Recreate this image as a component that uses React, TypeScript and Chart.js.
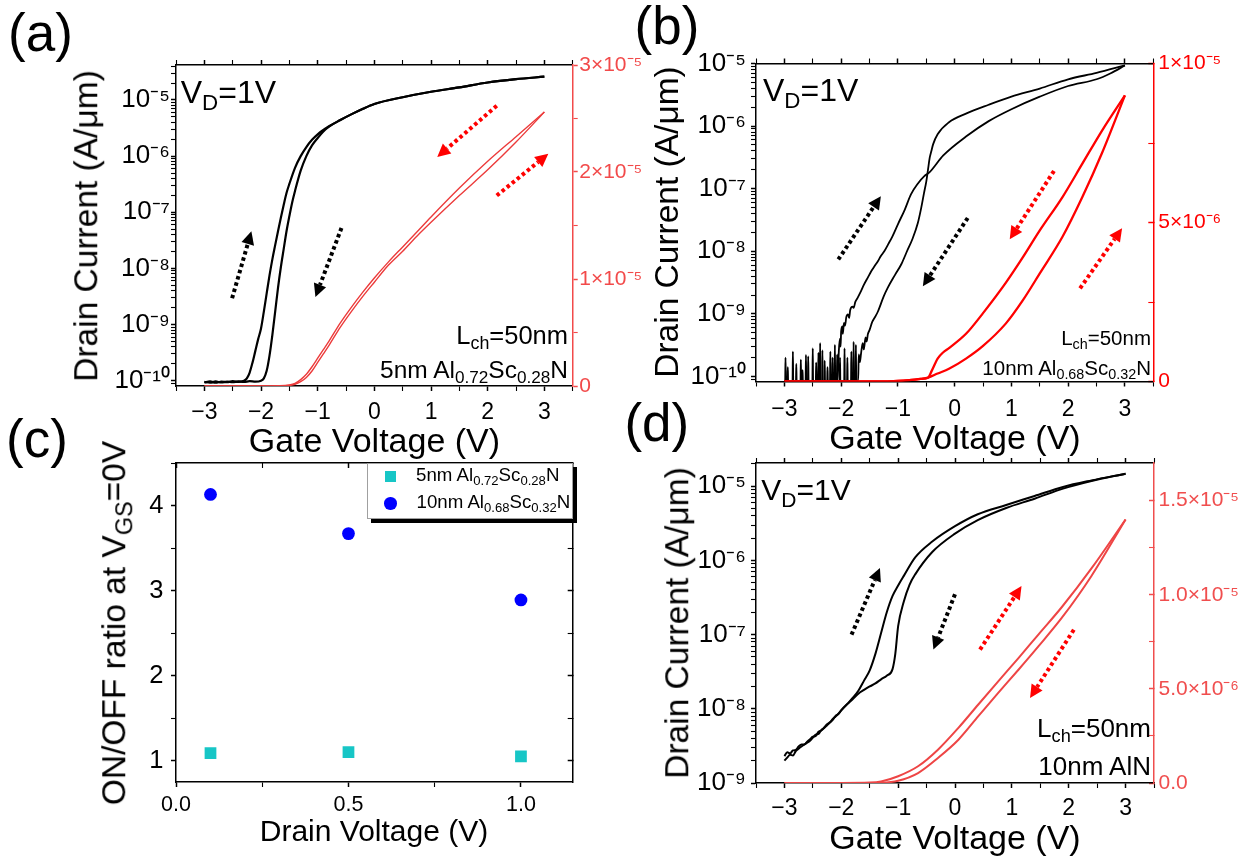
import React, { useEffect, useRef } from 'react';
import { Chart, registerables } from 'chart.js';

Chart.register(...registerables);

const FONT = '"Liberation Sans", Arial, Helvetica, sans-serif';
const SUP: Record<string, string> = { '-': '⁻', '0': '⁰', '1': '¹', '2': '²', '3': '³', '4': '⁴', '5': '⁵', '6': '⁶', '7': '⁷', '8': '⁸', '9': '⁹' };

// ---------------- Gate-voltage axis (panels a, b, d) ----------------
const gateTickValues = [-3.5, -3, -2.5, -2, -1.5, -1, -0.5, 0, 0.5, 1, 1.5, 2, 2.5, 3, 3.5];
const gateLabelValues = [-3, -2, -1, 0, 1, 2, 3];

// ---------------- Panel (a): 5nm Al0.72Sc0.28N ----------------
const aFwdV = [-3.0, -2.9, -2.8, -2.7, -2.6, -2.5, -2.4, -2.3, -2.25, -2.2,
  -2.15, -2.1, -2.05, -2.0, -1.95, -1.9, -1.85, -1.8, -1.75, -1.7,
  -1.65, -1.6, -1.55, -1.5, -1.4, -1.3, -1.2, -1.1, -1.0, -0.8,
  -0.6, -0.4, -0.2, 0, 0.5, 1.0, 1.5, 2.0, 2.5, 3.0];
const aFwdI = [0.93e-10, 0.97e-10, 0.92e-10, 0.96e-10, 0.94e-10, 0.98e-10, 0.95e-10, 1.0e-10, 1.1e-10, 1.4e-10,
  2.1e-10, 3.4e-10, 5.5e-10, 8.5e-10, 1.7e-9, 3.6e-9, 7.5e-9, 1.45e-8, 2.6e-8, 4.6e-8,
  8.0e-8, 1.35e-7, 2.2e-7, 3.2e-7, 6.2e-7, 1.0e-6, 1.45e-6, 1.95e-6, 2.45e-6, 3.4e-6,
  4.4e-6, 5.6e-6, 7.0e-6, 8.5e-6, 1.12e-5, 1.4e-5, 1.68e-5, 2.05e-5, 2.35e-5, 2.6e-5];
const aRevV = [-3.0, -2.9, -2.8, -2.7, -2.6, -2.5, -2.4, -2.3, -2.2, -2.1,
  -2.0, -1.95, -1.9, -1.85, -1.8, -1.75, -1.7, -1.65, -1.6, -1.55,
  -1.5, -1.45, -1.4, -1.3, -1.2, -1.1, -1.0, -0.9, -0.8, -0.6,
  -0.4, -0.2, 0, 0.5, 1.0, 1.5, 2.0, 2.5, 3.0];
const aRevI = [0.95e-10, 0.92e-10, 0.97e-10, 0.93e-10, 0.96e-10, 0.94e-10, 0.97e-10, 0.95e-10, 0.98e-10, 0.96e-10,
  1.0e-10, 1.1e-10, 1.5e-10, 2.8e-10, 6.5e-10, 1.7e-9, 4.5e-9, 1.05e-8, 2.2e-8, 4.6e-8,
  8.5e-8, 1.5e-7, 2.4e-7, 5.5e-7, 1.0e-6, 1.55e-6, 2.1e-6, 2.75e-6, 3.35e-6, 4.4e-6,
  5.6e-6, 7.0e-6, 8.5e-6, 1.12e-5, 1.4e-5, 1.68e-5, 2.05e-5, 2.35e-5, 2.6e-5];
const aLinV = [-3.0, -2.0, -1.7, -1.5, -1.4, -1.3, -1.2, -1.1, -1.0, -0.9,
  -0.8, -0.6, -0.4, -0.2, 0, 0.25, 0.5, 0.75, 1.0, 1.5,
  2.0, 2.5, 3.0];
const aLinRevI = [0, 0, 0.02e-6, 0.1e-6, 0.25e-6, 0.6e-6, 1.1e-6, 1.8e-6, 2.6e-6, 3.4e-6,
  4.2e-6, 5.9e-6, 7.4e-6, 8.8e-6, 10.1e-6, 11.6e-6, 13.0e-6, 14.4e-6, 15.8e-6, 18.5e-6,
  21.0e-6, 23.3e-6, 25.6e-6];
const aLinFwdI = [0, 0, 0.01e-6, 0.05e-6, 0.15e-6, 0.4e-6, 0.8e-6, 1.4e-6, 2.2e-6, 3.0e-6,
  3.8e-6, 5.5e-6, 7.0e-6, 8.4e-6, 9.7e-6, 11.3e-6, 12.6e-6, 14.0e-6, 15.3e-6, 17.8e-6,
  20.2e-6, 22.8e-6, 25.6e-6];
const aRightTicks = [0, 5e-6, 1e-5, 1.5e-5, 2e-5, 2.5e-5, 3e-5];
const aRightLabelValues = [0, 1e-5, 2e-5, 3e-5];
const aRightLabels = ['0', '1×10⁻⁵', '2×10⁻⁵', '3×10⁻⁵'];
const aArrows = [
  { from: [-2.51, 2.95e-9], to: [-2.17, 4.57e-8], axis: 'y', color: '#000' },
  { from: [-0.58, 5.25e-8], to: [-1.04, 3.09e-9], axis: 'y', color: '#000' },
  { from: [2.16, 26.2e-6], to: [1.11, 21.4e-6], axis: 'y2', color: '#ff0000' },
  { from: [2.16, 17.8e-6], to: [3.07, 21.7e-6], axis: 'y2', color: '#ff0000' },
];

// ---------------- Panel (b): 10nm Al0.68Sc0.32N ----------------
const F_B = 8.5e-11; // noise floor level
const bFwdV = [-3.0,
  -2.986, -2.98, -2.974, -2.946, -2.94, -2.934, -2.856, -2.85, -2.844,
  -2.796, -2.79, -2.784, -2.716, -2.71, -2.704, -2.686, -2.68, -2.674,
  -2.586, -2.58, -2.574, -2.506, -2.5, -2.494, -2.446, -2.44, -2.434,
  -2.406, -2.4, -2.394, -2.376, -2.37, -2.364, -2.296, -2.29, -2.284,
  -2.246, -2.24, -2.234, -2.196, -2.19, -2.184, -2.156, -2.15, -2.144,
  -2.116, -2.11, -2.104, -2.076, -2.07, -2.064,
  -2.05, -2.04, -2.02, -2.01, -2.0, -1.98, -1.97, -1.95, -1.93, -1.91,
  -1.88, -1.86, -1.84, -1.8, -1.78, -1.75, -1.71, -1.65, -1.6, -1.53,
  -1.47, -1.41, -1.35, -1.3, -1.24, -1.17, -1.1, -1.0, -0.88, -0.77,
  -0.65, -0.53, -0.45, -0.2, 0.2, 0.6, 1.0, 1.5, 2.0, 2.5,
  2.75, 3.0];
const bFwdI = [F_B,
  F_B, 2.0e-10, F_B, F_B, 1.41e-10, F_B, F_B, 2.5e-10, F_B,
  F_B, 1.58e-10, F_B, F_B, 1.86e-10, F_B, F_B, 1.26e-10, F_B,
  F_B, 2.09e-10, F_B, F_B, 2.8e-10, F_B, F_B, 1.66e-10, F_B,
  F_B, 2.4e-10, F_B, F_B, 3.4e-10, F_B, F_B, 1.78e-10, F_B,
  F_B, 1.41e-10, F_B, F_B, 2.5e-10, F_B, F_B, 2.0e-10, F_B,
  F_B, 3.2e-10, F_B, F_B, 2.24e-10, F_B,
  1.5e-10, 2.6e-10, 4.0e-10, 3.0e-10, 5.2e-10, 6.3e-10, 4.8e-10, 7.2e-10, 6.5e-10, 8.8e-10,
  9.8e-10, 8.6e-10, 1.15e-9, 1.3e-9, 1.25e-9, 1.55e-9, 1.8e-9, 2.3e-9, 2.9e-9, 3.8e-9,
  4.8e-9, 5.8e-9, 7.0e-9, 8.4e-9, 1.0e-8, 1.3e-8, 1.7e-8, 2.7e-8, 4.6e-8, 8.1e-8,
  1.2e-7, 1.6e-7, 1.8e-7, 3.4e-7, 6.8e-7, 1.2e-6, 1.86e-6, 2.95e-6, 4.37e-6, 5.6e-6,
  7.0e-6, 9.3e-6];
const bRevV = [-3.0,
  -2.626, -2.62, -2.614, -2.336, -2.33, -2.324, -2.026, -2.02, -2.014,
  -1.946, -1.94, -1.934, -1.896, -1.89, -1.884, -1.826, -1.82, -1.814,
  -1.786, -1.78, -1.774, -1.746, -1.74, -1.734, -1.70,
  -1.69, -1.67, -1.65, -1.62, -1.6, -1.57, -1.55, -1.53, -1.5, -1.45,
  -1.4, -1.35, -1.25, -1.18, -1.05, -0.94, -0.84, -0.74, -0.65, -0.59,
  -0.54, -0.5, -0.47, -0.44, -0.41, -0.38, -0.3, -0.1, 0.2, 0.6,
  1.0, 1.5, 2.0, 2.5, 3.0];
const bRevI = [F_B,
  F_B, 2.2e-10, F_B, F_B, 2.6e-10, F_B, F_B, 2.0e-10, F_B,
  F_B, 2.8e-10, F_B, F_B, 2.0e-10, F_B, F_B, 2.5e-10, F_B,
  F_B, 3.55e-10, F_B, F_B, 3.2e-10, F_B, F_B,
  2.24e-10, 1.7e-10, 2.3e-10, 3.4e-10, 2.7e-10, 4.2e-10, 3.6e-10, 4.7e-10, 5.5e-10, 7.5e-10,
  9.0e-10, 1.1e-9, 1.9e-9, 2.6e-9, 4.2e-9, 6.2e-9, 1.0e-8, 1.6e-8, 2.8e-8, 4.9e-8,
  8.5e-8, 1.3e-7, 2.0e-7, 3.1e-7, 4.0e-7, 5.1e-7, 7.4e-7, 1.15e-6, 1.58e-6, 2.19e-6,
  2.95e-6, 3.98e-6, 5.6e-6, 7.08e-6, 9.3e-6];
const bLinRevV = [-3.0, -2.0, -1.5, -1.2, -1.0, -0.8, -0.6, -0.47, -0.4, -0.3,
  -0.2, -0.1, 0.2, 0.5, 0.9, 1.2, 1.5, 1.9, 2.25, 2.6, 3.0];
const bLinRevI = [0, 0, 0, 0.005e-6, 0.015e-6, 0.04e-6, 0.08e-6, 0.12e-6, 0.35e-6, 0.72e-6,
  0.92e-6, 1.05e-6, 1.5e-6, 2.15e-6, 3.1e-6, 3.9e-6, 4.75e-6, 5.8e-6, 6.85e-6, 7.9e-6, 9.0e-6];
const bLinFwdV = [-3.0, -2.0, -1.5, -1.2, -1.0, -0.8, -0.6, -0.47, -0.3, -0.1,
  0.2, 0.5, 0.9, 1.2, 1.5, 1.9, 2.25, 2.6, 3.0];
const bLinFwdI = [0, 0, 0, 0.005e-6, 0.015e-6, 0.04e-6, 0.08e-6, 0.12e-6, 0.25e-6, 0.4e-6,
  0.72e-6, 1.12e-6, 1.82e-6, 2.55e-6, 3.4e-6, 4.55e-6, 5.8e-6, 7.2e-6, 9.0e-6];
const bRightTicks = [0, 2.5e-6, 5e-6, 7.5e-6, 1e-5];
const bRightLabelValues = [0, 5e-6, 1e-5];
const bRightLabels = ['0', '5×10⁻⁶', '1×10⁻⁵'];
const bArrows = [
  { from: [-2.05, 7.4e-9], to: [-1.30, 7.6e-8], axis: 'y', color: '#000' },
  { from: [0.23, 3.4e-8], to: [-0.56, 2.75e-9], axis: 'y', color: '#000' },
  { from: [1.75, 6.62e-6], to: [0.97, 4.47e-6], axis: 'y2', color: '#ff0000' },
  { from: [2.21, 2.93e-6], to: [2.95, 4.82e-6], axis: 'y2', color: '#ff0000' },
];

// ---------------- Panel (c): ON/OFF ratio ----------------
const drainV = [0.1, 0.5, 1.0];
const ratio5nm = [1.09, 1.10, 1.05];
const ratio10nm = [4.13, 3.67, 2.89];
const cXTicks = [0, 0.25, 0.5, 0.75, 1.0];
const cXLabelValues = [0, 0.5, 1.0];
const cXLabels = ['0.0', '0.5', '1.0'];
const cYTicks = [1, 1.5, 2, 2.5, 3, 3.5, 4, 4.5];
const cYLabelValues = [1, 2, 3, 4];

// ---------------- Panel (d): 10nm AlN ----------------
const dFwdV = [-3.0, -2.95, -2.9, -2.85, -2.8, -2.75, -2.7, -2.65, -2.6, -2.55,
  -2.5, -2.45, -2.4, -2.35, -2.3, -2.25, -2.2, -2.15, -2.1, -2.05,
  -2.0, -1.9, -1.8, -1.7, -1.6, -1.5, -1.4, -1.3, -1.2, -1.1,
  -1.0, -0.9, -0.7, -0.4, 0, 0.4, 0.9, 1.4, 1.9, 2.4,
  3.0];
const dFwdI = [2.3e-9, 2.6e-9, 2.5e-9, 2.75e-9, 2.8e-9, 3.1e-9, 3.3e-9, 3.3e-9, 3.6e-9, 3.9e-9,
  4.2e-9, 4.3e-9, 4.9e-9, 5.1e-9, 5.6e-9, 6.2e-9, 6.6e-9, 7.1e-9, 8.0e-9, 8.5e-9,
  9.5e-9, 1.15e-8, 1.4e-8, 1.75e-8, 2.4e-8, 3.3e-8, 5.5e-8, 1.05e-7, 2.0e-7, 3.3e-7,
  4.6e-7, 6.2e-7, 1.1e-6, 1.8e-6, 2.9e-6, 4.2e-6, 5.6e-6, 7.4e-6, 9.8e-6, 1.2e-5,
  1.48e-5];
const dRevV = [-3.0, -2.95, -2.9, -2.85, -2.8, -2.75, -2.7, -2.65, -2.6, -2.55,
  -2.5, -2.45, -2.4, -2.35, -2.3, -2.25, -2.2, -2.15, -2.1, -2.05,
  -2.0, -1.9, -1.8, -1.7, -1.6, -1.5, -1.4, -1.3, -1.2, -1.1,
  -1.05, -1.0, -0.9, -0.8, -0.7, -0.4, 0, 0.4, 0.9, 1.4,
  1.9, 2.4, 3.0];
const dRevI = [2.0e-9, 2.2e-9, 2.4e-9, 2.35e-9, 2.7e-9, 2.9e-9, 3.1e-9, 3.3e-9, 3.5e-9, 3.7e-9,
  4.1e-9, 4.5e-9, 4.6e-9, 5.2e-9, 5.5e-9, 6.0e-9, 6.5e-9, 7.3e-9, 7.9e-9, 8.6e-9,
  9.6e-9, 1.15e-8, 1.35e-8, 1.6e-8, 1.8e-8, 2.0e-8, 2.2e-8, 2.5e-8, 2.8e-8, 3.4e-8,
  5.5e-8, 1.3e-7, 2.8e-7, 4.7e-7, 6.5e-7, 1.3e-6, 2.3e-6, 3.5e-6, 5.1e-6, 6.8e-6,
  9.3e-6, 1.18e-5, 1.48e-5];
const dLinV = [-3.0, -2.0, -1.5, -1.3, -1.0, -0.65, -0.3, 0.06, 0.41, 0.76,
  1.12, 1.47, 1.88, 2.4, 3.0];
const dLinUpI = [0, 0, 0.02e-6, 0.08e-6, 0.36e-6, 0.89e-6, 1.77e-6, 2.93e-6, 4.17e-6, 5.4e-6,
  6.65e-6, 7.9e-6, 9.35e-6, 11.4e-6, 14.0e-6];
const dLinLoI = [0, 0, 0, 0.01e-6, 0.12e-6, 0.53e-6, 1.33e-6, 2.3e-6, 3.55e-6, 4.79e-6,
  6.03e-6, 7.27e-6, 8.78e-6, 11.0e-6, 14.0e-6];
const dRightTicks = [0, 2.5e-6, 5e-6, 7.5e-6, 1e-5, 1.25e-5, 1.5e-5];
const dRightLabelValues = [0, 5e-6, 1e-5, 1.5e-5];
const dRightLabels = ['0.0', '5.0×10⁻⁶', '1.0×10⁻⁵', '1.5×10⁻⁵'];
const dArrows = [
  { from: [-1.82, 1.0e-7], to: [-1.32, 7.9e-7], axis: 'y', color: '#000' },
  { from: [0.0, 3.5e-7], to: [-0.38, 6.3e-8], axis: 'y', color: '#000' },
  { from: [0.44, 7.09e-6], to: [1.17, 10.46e-6], axis: 'y2', color: '#ff0000' },
  { from: [2.09, 8.14e-6], to: [1.32, 4.52e-6], axis: 'y2', color: '#ff0000' },
];

// ---------------- helpers ----------------
const pts = (xs: number[], ys: number[]) => xs.map((x, i) => ({ x, y: ys[i] }));
const near = (a: number, b: number) => Math.abs(a - b) <= 1e-9 * Math.max(1, Math.abs(a), Math.abs(b));
const pickLabel = (v: number, vals: number[], labels: string[]) => {
  const i = vals.findIndex((w) => Math.abs(w - v) <= Math.abs(w) * 1e-6 + 1e-13);
  return i >= 0 ? labels[i] : '';
};
const gateLabel = (v: number) => {
  const i = gateLabelValues.findIndex((w) => near(w, v));
  if (i < 0) return '';
  const n = gateLabelValues[i];
  return n < 0 ? '\u2212' + Math.abs(n) : String(n);
};
const logLabel = (v: number) => {
  const e = Math.log10(v);
  const r = Math.round(e);
  if (Math.abs(e - r) > 1e-6) return '';
  return '10' + String(r).split('').map((c) => SUP[c]).join('');
};
const logTicks = (min: number, max: number) => {
  const out: any[] = [];
  for (let e = Math.floor(Math.log10(min)); e <= Math.ceil(Math.log10(max)); e++) {
    for (let m = 1; m <= 9; m++) {
      const v = m * Math.pow(10, e);
      if (v >= min && v <= max) out.push({ value: v, major: m === 1 });
    }
  }
  return out;
};

function makeArrowPlugin(arrows: any[]) {
  return {
    id: 'dottedArrows',
    afterDatasetsDraw(chart: any) {
      const ctx = chart.ctx;
      const xs = chart.scales.x;
      for (const a of arrows) {
        const ys = chart.scales[a.axis];
        const x1 = xs.getPixelForValue(a.from[0]);
        const y1 = ys.getPixelForValue(a.from[1]);
        const x2 = xs.getPixelForValue(a.to[0]);
        const y2 = ys.getPixelForValue(a.to[1]);
        const ang = Math.atan2(y2 - y1, x2 - x1);
        const hl = 13;
        const hw = 6.5;
        const bx = x2 - hl * Math.cos(ang);
        const by = y2 - hl * Math.sin(ang);
        ctx.save();
        ctx.strokeStyle = a.color;
        ctx.fillStyle = a.color;
        ctx.lineWidth = 4;
        ctx.lineCap = 'butt';
        ctx.setLineDash([3.5, 3]);
        ctx.beginPath();
        ctx.moveTo(x1, y1);
        ctx.lineTo(bx, by);
        ctx.stroke();
        ctx.setLineDash([]);
        ctx.beginPath();
        ctx.moveTo(x2, y2);
        ctx.lineTo(bx + hw * Math.sin(ang), by - hw * Math.cos(ang));
        ctx.lineTo(bx - hw * Math.sin(ang), by + hw * Math.cos(ang));
        ctx.closePath();
        ctx.fill();
        ctx.restore();
      }
    },
  };
}

// tickLength > 0: ticks point outward; < 0: ticks point into the plot
const gridOpts = (color: string, tickLength = 5) => ({
  display: true,
  drawOnChartArea: false,
  drawTicks: true,
  tickLength,
  tickColor: color,
  color,
  tickWidth: (c: any) => (c.tick && c.tick.major ? 1.5 : 1.1),
});
const borderOpts = (color: string) => ({ display: true, color, width: 1.5 });

function ivChart(canvas: HTMLCanvasElement, s: any) {
  const { box, area } = s;
  const Lw = area.l - box.left;
  const Rw = box.left + box.w - area.r;
  const Th = area.t - box.top;
  const Bh = box.top + box.h - area.b;
  const lineDs = (xs: number[], ys: number[], color: string, width: number, axis: string) => ({
    data: pts(xs, ys),
    borderColor: color,
    backgroundColor: color,
    borderWidth: width,
    pointRadius: 0,
    fill: false,
    xAxisID: 'x',
    yAxisID: axis,
    cubicInterpolationMode: 'monotone',
  });
  return new Chart(canvas, {
    type: 'line',
    data: {
      datasets: [
        lineDs(s.redA.x, s.redA.y, s.redColor, s.redWidth, 'y2'),
        lineDs(s.redB.x, s.redB.y, s.redColor, s.redWidth, 'y2'),
        lineDs(s.blkA.x, s.blkA.y, '#000', s.blkWidth, 'y'),
        lineDs(s.blkB.x, s.blkB.y, '#000', s.blkWidth, 'y'),
      ],
    },
    options: {
      responsive: false,
      animation: false,
      devicePixelRatio: 1,
      events: [],
      layout: { padding: 0 },
      plugins: { legend: { display: false }, tooltip: { enabled: false } },
      scales: {
        x: {
          type: 'linear', position: 'bottom', min: -3.5, max: 3.5,
          afterBuildTicks: (sc: any) => { sc.ticks = gateTickValues.map((v) => ({ value: v, major: gateLabelValues.includes(v) })); },
          afterFit: (sc: any) => { sc.height = Bh; },
          ticks: { autoSkip: false, maxRotation: 0, minRotation: 0, padding: s.xPad, color: '#000', font: { family: FONT, size: 23 }, callback: (v: number) => gateLabel(v) },
          grid: gridOpts('#000'),
          border: borderOpts('#000'),
        },
        xTop: {
          type: 'linear', position: 'top', min: -3.5, max: 3.5,
          afterBuildTicks: (sc: any) => { sc.ticks = gateTickValues.map((v) => ({ value: v, major: gateLabelValues.includes(v) })); },
          afterFit: (sc: any) => { sc.height = Th; },
          ticks: { autoSkip: false, maxRotation: 0, minRotation: 0, font: { family: FONT, size: 10 }, callback: () => '' },
          grid: gridOpts('#000'),
          border: borderOpts('#000'),
        },
        y: {
          type: 'logarithmic', position: 'left', min: s.logMin, max: s.logMax,
          afterBuildTicks: (sc: any) => { sc.ticks = logTicks(s.logMin, s.logMax); },
          afterFit: (sc: any) => { sc.width = Lw; },
          ticks: { autoSkip: false, padding: s.yPad, color: '#000', font: { family: FONT, size: 26 }, callback: (v: number) => logLabel(v) },
          grid: gridOpts('#000'),
          border: borderOpts('#000'),
        },
        y2: {
          type: 'linear', position: 'right', min: 0, max: s.linMax,
          afterBuildTicks: (sc: any) => { sc.ticks = s.rightTicks.map((v: number) => ({ value: v, major: s.rightLabelValues.includes(v) })); },
          afterFit: (sc: any) => { sc.width = Rw; },
          ticks: { autoSkip: false, padding: s.rPad, color: s.axisRed, font: { family: FONT, size: 21 }, callback: (v: number) => pickLabel(v, s.rightLabelValues, s.rightLabels) },
          grid: gridOpts(s.axisRed, s.rTick),
          border: borderOpts(s.axisRed),
        },
      },
    },
    plugins: [makeArrowPlugin(s.arrows)],
  } as any);
}

function ratioChart(canvas: HTMLCanvasElement, s: any) {
  const { box, area } = s;
  const Lw = area.l - box.left;
  const Rw = box.left + box.w - area.r;
  const Th = area.t - box.top;
  const Bh = box.top + box.h - area.b;
  const xT = () => cXTicks.map((v) => ({ value: v, major: cXLabelValues.includes(v) }));
  const yT = () => cYTicks.map((v) => ({ value: v, major: cYLabelValues.includes(v) }));
  return new Chart(canvas, {
    type: 'scatter',
    data: {
      datasets: [
        { data: pts(drainV, ratio5nm), pointStyle: 'rect', pointRadius: 8.3, backgroundColor: '#17c6c6', borderWidth: 0, xAxisID: 'x', yAxisID: 'y' },
        { data: pts(drainV, ratio10nm), pointStyle: 'circle', pointRadius: 6.4, backgroundColor: '#0000ff', borderWidth: 0, xAxisID: 'x', yAxisID: 'y' },
      ],
    },
    options: {
      responsive: false,
      animation: false,
      devicePixelRatio: 1,
      events: [],
      layout: { padding: 0 },
      plugins: { legend: { display: false }, tooltip: { enabled: false } },
      scales: {
        x: {
          type: 'linear', position: 'bottom', min: 0, max: 1.15,
          afterBuildTicks: (sc: any) => { sc.ticks = xT(); },
          afterFit: (sc: any) => { sc.height = Bh; },
          ticks: { autoSkip: false, maxRotation: 0, minRotation: 0, padding: 5.5, color: '#000', font: { family: FONT, size: 21.5 }, callback: (v: number) => pickLabel(v, cXLabelValues, cXLabels) },
          grid: gridOpts('#000'),
          border: borderOpts('#000'),
        },
        xTop: {
          type: 'linear', position: 'top', min: 0, max: 1.15,
          afterBuildTicks: (sc: any) => { sc.ticks = xT(); },
          afterFit: (sc: any) => { sc.height = Th; },
          ticks: { autoSkip: false, maxRotation: 0, font: { family: FONT, size: 10 }, callback: () => '' },
          grid: gridOpts('#000', -5),
          border: borderOpts('#000'),
        },
        y: {
          type: 'linear', position: 'left', min: 0.75, max: 4.5,
          afterBuildTicks: (sc: any) => { sc.ticks = yT(); },
          afterFit: (sc: any) => { sc.width = Lw; },
          ticks: { autoSkip: false, padding: 7.5, color: '#000', font: { family: FONT, size: 25.5 }, callback: (v: number) => (cYLabelValues.some((w) => near(w, v)) ? String(Math.round(v)) : '') },
          grid: gridOpts('#000'),
          border: borderOpts('#000'),
        },
        yRight: {
          type: 'linear', position: 'right', min: 0.75, max: 4.5,
          afterBuildTicks: (sc: any) => { sc.ticks = yT(); },
          afterFit: (sc: any) => { sc.width = Rw; },
          ticks: { autoSkip: false, font: { family: FONT, size: 10 }, callback: () => '' },
          grid: gridOpts('#000', -5),
          border: borderOpts('#000'),
        },
      },
    },
  } as any);
}

// ---------------- layout (page pixels) ----------------
const PANEL_A = {
  box: { left: 0, top: 0, w: 660, h: 450 }, area: { l: 176, r: 572.7, t: 65, b: 386 },
  logMin: 8.05e-11, logMax: 4.2e-5, linMax: 3e-5,
  rightTicks: aRightTicks, rightLabelValues: aRightLabelValues, rightLabels: aRightLabels,
  redA: { x: aLinV, y: aLinRevI }, redB: { x: aLinV, y: aLinFwdI },
  blkA: { x: aFwdV, y: aFwdI }, blkB: { x: aRevV, y: aRevI },
  redColor: '#ec3b3b', redWidth: 1.4, blkWidth: 2.2, axisRed: '#f24a4a', arrows: aArrows,
  xPad: 8.2, yPad: 1, rPad: 1.5, rTick: 5,
};
const PANEL_B = {
  box: { left: 600, top: 0, w: 655, h: 450 }, area: { l: 756, r: 1153.3, t: 63.5, b: 381.5 },
  logMin: 8.3e-11, logMax: 1e-5, linMax: 1e-5,
  rightTicks: bRightTicks, rightLabelValues: bRightLabelValues, rightLabels: bRightLabels,
  redA: { x: bLinRevV, y: bLinRevI }, redB: { x: bLinFwdV, y: bLinFwdI },
  blkA: { x: bFwdV, y: bFwdI }, blkB: { x: bRevV, y: bRevI },
  redColor: '#ff0000', redWidth: 2.3, blkWidth: 1.8, axisRed: '#ff0000', arrows: bArrows,
  xPad: 9, yPad: 5, rPad: 10, rTick: -5,
};
const PANEL_C = { box: { left: 0, top: 430, w: 620, h: 432 }, area: { l: 176, r: 572.7, t: 463, b: 782 } };
const PANEL_D = {
  box: { left: 600, top: 430, w: 655, h: 432 }, area: { l: 756, r: 1154, t: 463, b: 783 },
  logMin: 1e-9, logMax: 2.06e-5, linMax: 1.7e-5,
  rightTicks: dRightTicks, rightLabelValues: dRightLabelValues, rightLabels: dRightLabels,
  redA: { x: dLinV, y: dLinUpI }, redB: { x: dLinV, y: dLinLoI },
  blkA: { x: dFwdV, y: dFwdI }, blkB: { x: dRevV, y: dRevI },
  redColor: '#ee4545', redWidth: 2, blkWidth: 2, axisRed: '#f04e4e', arrows: dArrows,
  xPad: 6.5, yPad: 5, rPad: 9.5, rTick: -5,
};

function ChartCanvas({ spec, kind }: { spec: any; kind: 'iv' | 'ratio' }) {
  const ref = useRef<HTMLCanvasElement | null>(null);
  useEffect(() => {
    if (!ref.current) return;
    const chart = kind === 'iv' ? ivChart(ref.current, spec) : ratioChart(ref.current, spec);
    return () => chart.destroy();
  }, [spec, kind]);
  const b = spec.box;
  return (
    <canvas
      ref={ref}
      width={b.w}
      height={b.h}
      style={{ position: 'absolute', left: b.left, top: b.top, width: b.w, height: b.h }}
    />
  );
}

// text helpers (baseline-positioned)
function Txt({ x, y, size, align = 'left', color = '#000', children }: any) {
  const st: React.CSSProperties = {
    position: 'absolute', top: y - 0.8465 * size, fontSize: size, lineHeight: 1,
    fontFamily: FONT, color, whiteSpace: 'nowrap',
  };
  if (align === 'left') st.left = x;
  else if (align === 'right') st.right = 1255 - x;
  else { st.left = x; st.transform = 'translateX(-50%)'; }
  return <div style={st}>{children}</div>;
}
function Sub({ children, shift = 0.3 }: any) {
  return <span style={{ fontSize: '0.7em', verticalAlign: `-${shift}em`, lineHeight: 0 }}>{children}</span>;
}
function VTitle({ cx, cy, size, children }: any) {
  return (
    <div style={{ position: 'absolute', left: cx, top: cy, transform: 'translate(-50%, -50%) rotate(-90deg)', fontSize: size, lineHeight: 1, fontFamily: FONT, whiteSpace: 'nowrap', color: '#000' }}>
      {children}
    </div>
  );
}

export default function App() {
  return (
    <div style={{ position: 'absolute', left: 0, top: 0, width: 1255, height: 862, background: '#fff', overflow: 'hidden' }}>
      <ChartCanvas spec={PANEL_A} kind="iv" />
      <ChartCanvas spec={PANEL_B} kind="iv" />
      <ChartCanvas spec={PANEL_C} kind="ratio" />
      <ChartCanvas spec={PANEL_D} kind="iv" />

      {/* panel letters */}
      <Txt x={8} y={50.6} size={53}>(a)</Txt>
      <Txt x={634.6} y={44} size={53}>(b)</Txt>
      <Txt x={6} y={457} size={53}>(c)</Txt>
      <Txt x={624.4} y={440.6} size={53}>(d)</Txt>

      {/* axis titles */}
      <VTitle cx={86} cy={226} size={33.5}>Drain Current (A/μm)</VTitle>
      <VTitle cx={667} cy={222} size={33.5}>Drain Current (A/μm)</VTitle>
      <VTitle cx={677} cy={623} size={33.5}>Drain Current (A/μm)</VTitle>
      <VTitle cx={113.6} cy={623} size={33.5}>ON/OFF ratio at V<Sub shift={0.3}>GS</Sub>=0V</VTitle>
      <Txt x={374.4} y={451.7} size={34} align="center">Gate Voltage (V)</Txt>
      <Txt x={955} y={449} size={34} align="center">Gate Voltage (V)</Txt>
      <Txt x={374} y={841.7} size={30} align="center">Drain Voltage (V)</Txt>
      <Txt x={955} y={848.3} size={34} align="center">Gate Voltage (V)</Txt>

      {/* annotations (a) */}
      <Txt x={180.7} y={102.7} size={32}>V<Sub shift={0.33}>D</Sub>=1V</Txt>
      <Txt x={568} y={345} size={25.5} align="right">L<Sub shift={0.28}>ch</Sub>=50nm</Txt>
      <Txt x={568} y={378.3} size={24.5} align="right">5nm Al<Sub>0.72</Sub>Sc<Sub>0.28</Sub>N</Txt>

      {/* annotations (b) */}
      <Txt x={763} y={101.3} size={32}>V<Sub shift={0.33}>D</Sub>=1V</Txt>
      <Txt x={1151} y={345} size={20.5} align="right">L<Sub shift={0.28}>ch</Sub>=50nm</Txt>
      <Txt x={1151} y={375} size={20.5} align="right">10nm Al<Sub>0.68</Sub>Sc<Sub>0.32</Sub>N</Txt>

      {/* annotations (d) */}
      <Txt x={761.3} y={500.7} size={30}>V<Sub shift={0.33}>D</Sub>=1V</Txt>
      <Txt x={1151} y={736.7} size={26} align="right">L<Sub shift={0.28}>ch</Sub>=50nm</Txt>
      <Txt x={1151} y={775} size={26} align="right">10nm AlN</Txt>

      {/* legend (c) */}
      <div style={{ position: 'absolute', left: 366.7, top: 463, width: 206, height: 56, boxSizing: 'border-box', border: '1px solid #a0a0a0', background: '#fff', boxShadow: '4px 4px 0 #000' }} />
      <div style={{ position: 'absolute', left: 384.5, top: 471.2, width: 11, height: 11, background: '#17c6c6' }} />
      <div style={{ position: 'absolute', left: 384, top: 497, width: 12.5, height: 12.5, borderRadius: '50%', background: '#0000ff' }} />
      <Txt x={416} y={482} size={18.7}>5nm Al<Sub>0.72</Sub>Sc<Sub>0.28</Sub>N</Txt>
      <Txt x={416.5} y={508.5} size={18.7}>10nm Al<Sub>0.68</Sub>Sc<Sub>0.32</Sub>N</Txt>
    </div>
  );
}
